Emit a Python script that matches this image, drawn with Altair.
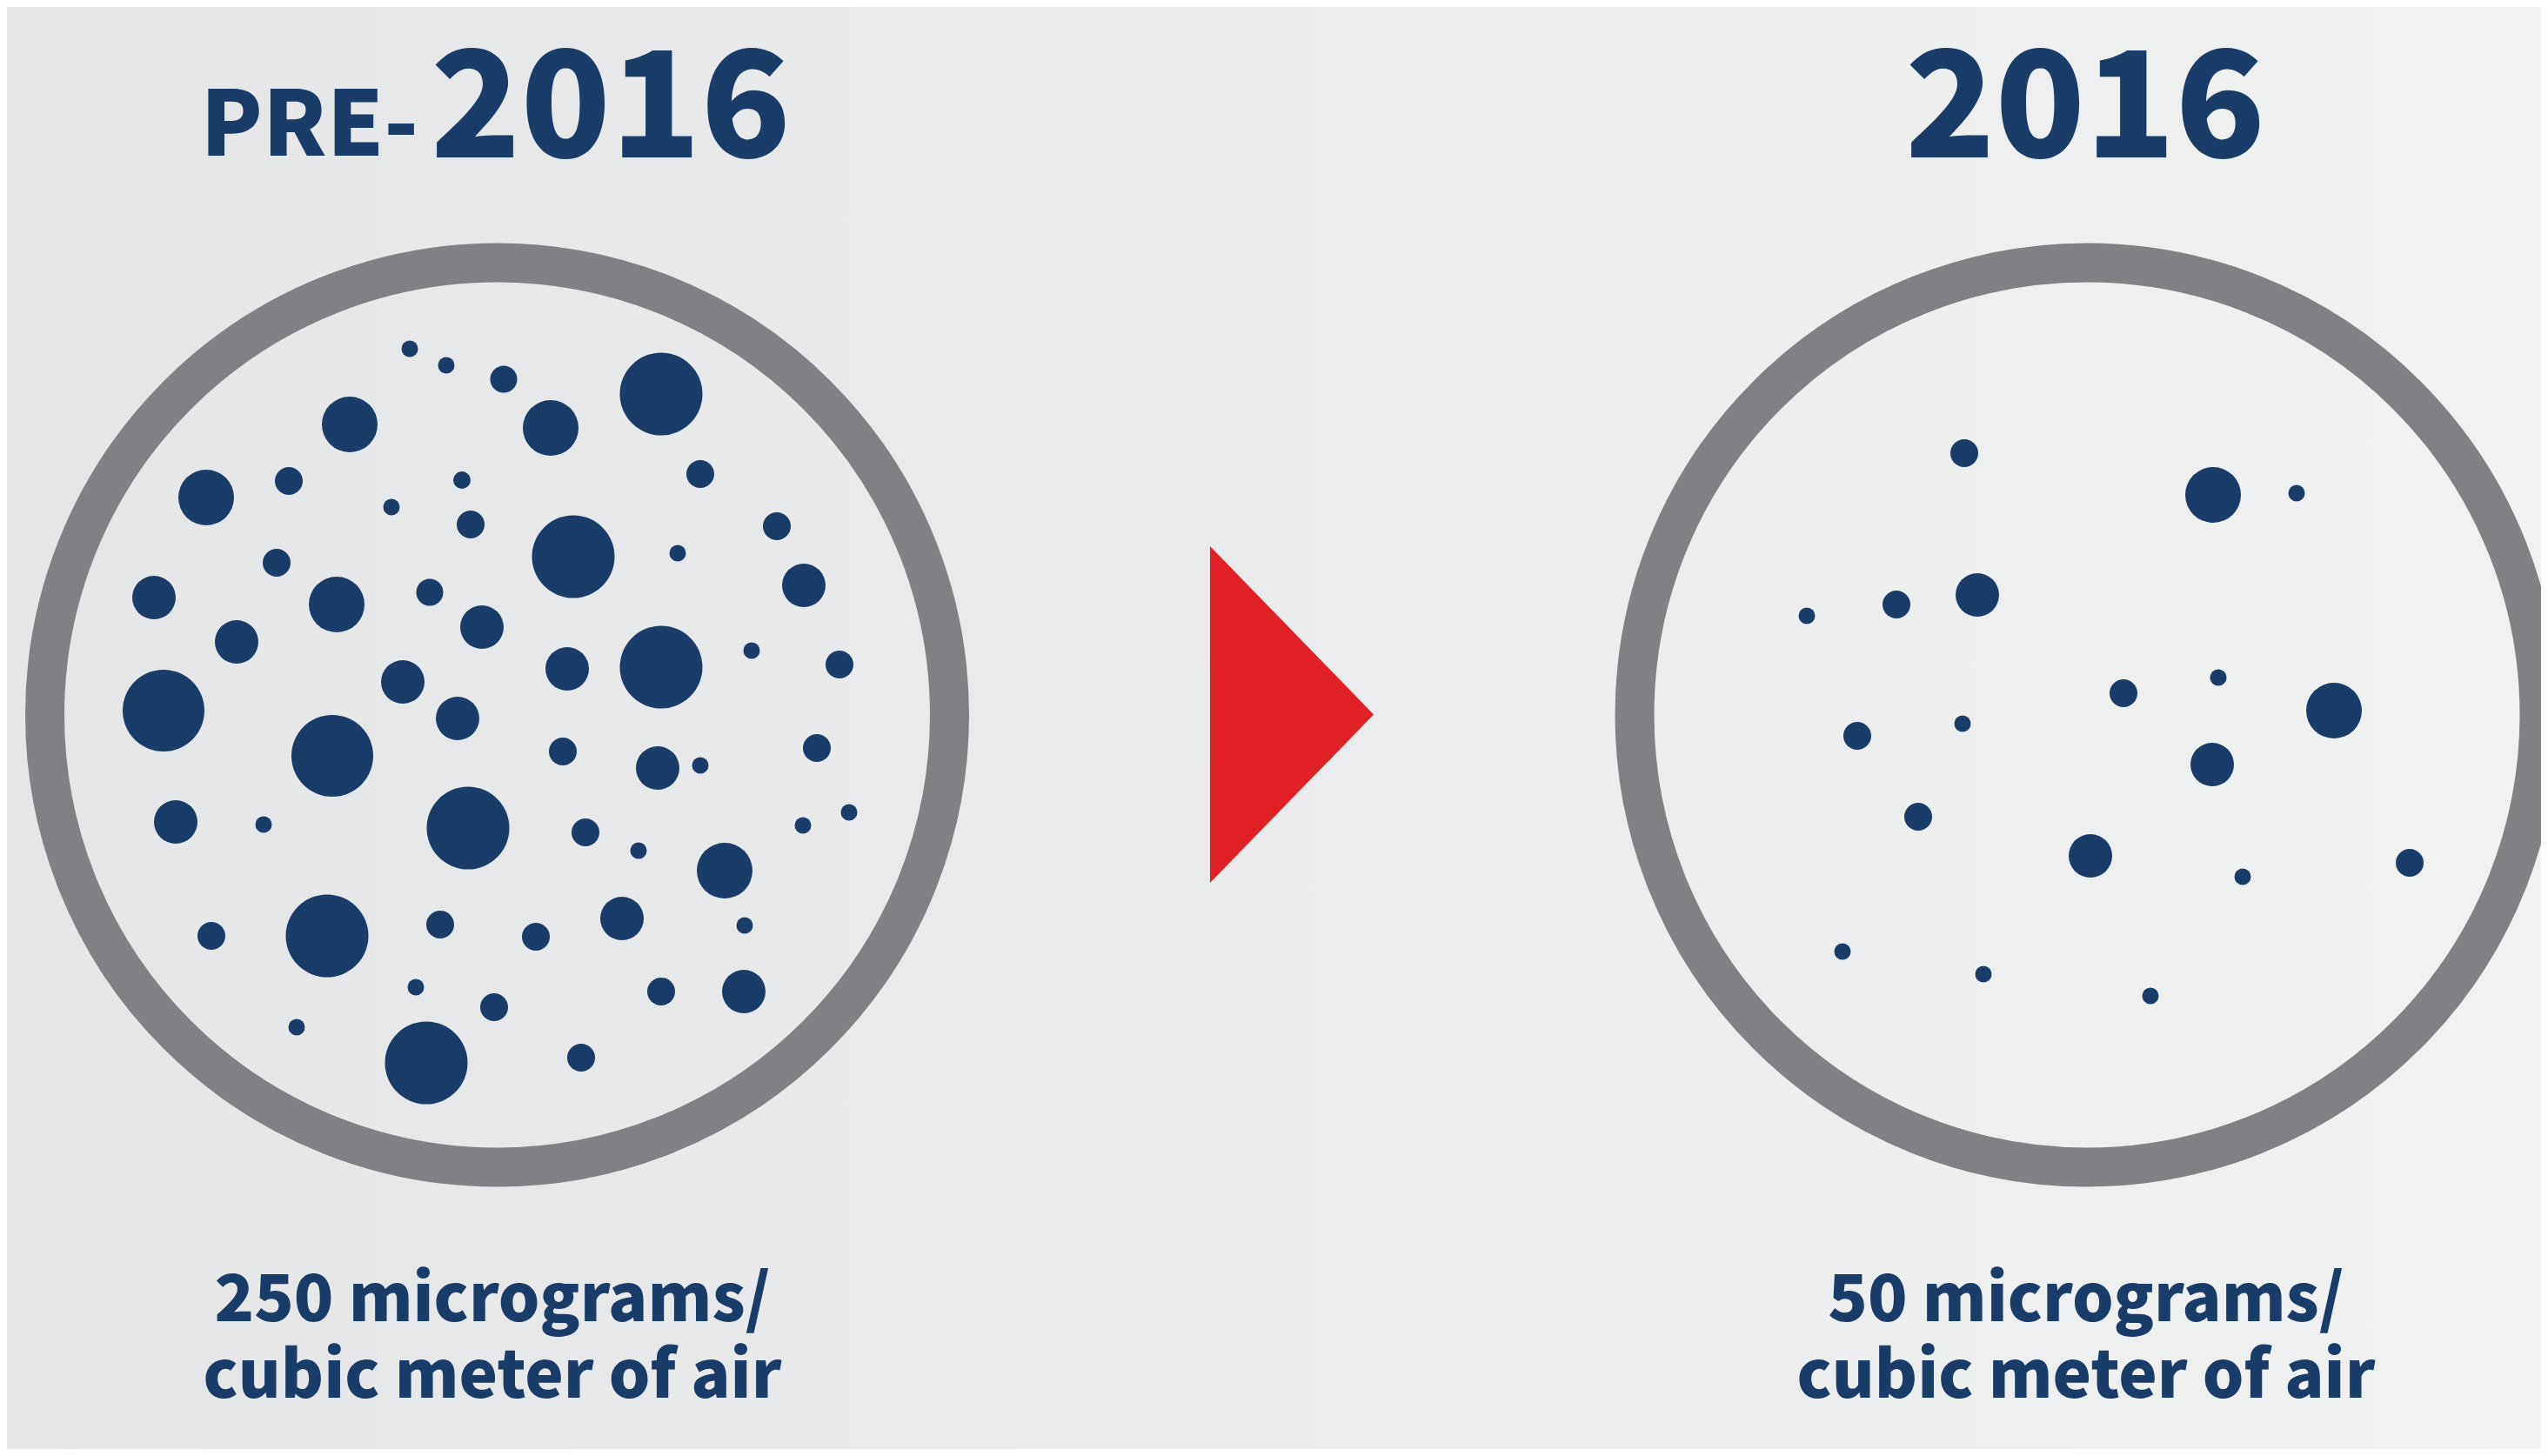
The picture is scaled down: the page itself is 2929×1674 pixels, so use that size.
import altair as alt
import pandas as pd

W, H = 2913, 1658          # whole chart, page margin is 8px
X0, Y0 = 8, 8              # reference pixel of chart origin

NAVY = "#1a3c69"
GRAY = "#808184"
RED = "#e11f27"
FONT = "Noto Sans CJK SC"

# ---- particles, pre-2016 (reference pixel coords, diameter) ----
pre_x = [471, 513, 579, 402, 237, 332, 531, 450, 541, 318, 177, 387, 494, 272, 554,
         188, 463, 526, 382, 633, 760, 805, 659, 779, 893, 924, 652, 760, 864, 965,
         202, 303, 376, 243, 506, 478, 568, 341, 490, 647, 756, 805, 939, 538, 673,
         734, 833, 923, 976, 715, 616, 856, 760, 855, 668]
pre_y = [401, 420, 436, 488, 572, 553, 552, 583, 603, 647, 687, 695, 681, 738, 721,
         817, 784, 826, 869, 492, 453, 545, 640, 636, 605, 673, 769, 767, 748, 764,
         945, 948, 1076, 1076, 1063, 1135, 1158, 1181, 1222, 864, 883, 880, 860, 952, 957,
         978, 1001, 949, 934, 1056, 1077, 1064, 1140, 1140, 1216]
pre_d = [19, 19, 31, 64, 64, 32, 20, 19, 32, 32, 50, 64, 31, 50, 50,
         94, 50, 50, 94, 64, 95, 32, 95, 19, 32, 50, 50, 95, 19, 32,
         50, 19, 95, 32, 32, 19, 32, 19, 95, 32, 50, 19, 32, 95, 32,
         19, 64, 19, 19, 50, 32, 19, 32, 50, 32]

# ---- particles, 2016 ----
now_x = [2258, 2273, 2180, 2077, 2256, 2544, 2640, 2441, 2550, 2683,
         2135, 2205, 2403, 2118, 2280, 2543, 2578, 2770, 2472]
now_y = [521, 684, 695, 708, 832, 569, 567, 797, 779, 817,
         846, 939, 984, 1094, 1120, 879, 1008, 992, 1145]
now_d = [32, 50, 32, 19, 19, 64, 19, 32, 19, 64,
         32, 32, 50, 19, 19, 50, 19, 32, 19]

# ---- rings (filters) ----
ring_x = [571.5, 2399]
ring_y = [822, 822]
ring_d = [1040, 1040]

# ---- arrow ----
arrow_x = [1485]
arrow_y = [821.5]
arrow_d = [387]

# ---- texts ----
pre_label = ["PRE-"]
year_labels = ["2016", "2016"]
year_x = [702, 2397]
note_labels = ["250 micrograms/\ncubic meter of air", "50 micrograms/\ncubic meter of air"]
note_x = [566, 2398]
note_y = [1519, 1519]

xs = alt.Scale(domain=[X0, X0 + W], nice=False, zero=False)
ys = alt.Scale(domain=[Y0, Y0 + H], nice=False, zero=False, reverse=True)
ss = alt.Scale(type="pow", exponent=2, domain=[0, 1000], range=[0, 1000000])

def X(f="x"):
    return alt.X(f"{f}:Q", scale=xs, axis=None)

def Y(f="y"):
    return alt.Y(f"{f}:Q", scale=ys, axis=None)

def S(f="d"):
    return alt.Size(f"{f}:Q", scale=ss, legend=None)

bg = alt.Chart(pd.DataFrame({"k": [0]})).mark_rect(
    color=alt.Gradient(
        gradient="linear",
        stops=[alt.GradientStop(color="#e5e6e7", offset=0),
               alt.GradientStop(color="#eaebec", offset=0.5),
               alt.GradientStop(color="#f0f1f1", offset=1)],
        x1=0, x2=1, y1=0, y2=0,
    )
).encode(x=alt.value(0), x2=alt.value(W), y=alt.value(0), y2=alt.value(H))

rings = alt.Chart(pd.DataFrame({"x": ring_x, "y": ring_y, "d": ring_d})).mark_point(
    shape="circle", filled=False, stroke=GRAY, strokeWidth=45, opacity=1
).encode(x=X(), y=Y(), size=S())

dots_df = pd.DataFrame({
    "x": pre_x + now_x,
    "y": pre_y + now_y,
    "d": pre_d + now_d,
})
dots = alt.Chart(dots_df).mark_point(
    shape="circle", filled=True, fill=NAVY, strokeWidth=0, opacity=1
).encode(x=X(), y=Y(), size=S())

arrow = alt.Chart(pd.DataFrame({"x": arrow_x, "y": arrow_y, "d": arrow_d})).mark_point(
    shape="M -0.486 -1 L 0.486 0 L -0.486 1 Z", filled=True, fill=RED, strokeWidth=0, opacity=1
).encode(x=X(), y=Y(), size=S())

pre_txt = alt.Chart(pd.DataFrame({"t": pre_label, "x": [481], "y": [179]})).mark_text(
    font=FONT, fontWeight=900, fontSize=104, color=NAVY, align="right", baseline="alphabetic"
).encode(x=X(), y=Y(), text="t:N")

year_txt = alt.Chart(pd.DataFrame({"t": year_labels, "x": year_x, "y": [181, 181]})).mark_text(
    font=FONT, fontWeight=900, fontSize=170, color=NAVY, align="center", baseline="alphabetic"
).encode(x=X(), y=Y(), text="t:N")

note_txt = alt.Chart(pd.DataFrame({"t": note_labels, "x": note_x, "y": note_y})).mark_text(
    font=FONT, fontWeight=900, fontSize=75, color=NAVY, align="center", baseline="alphabetic",
    lineBreak="\n", lineHeight=88
).encode(x=X(), y=Y(), text="t:N")

chart = alt.layer(bg, rings, dots, arrow, pre_txt, year_txt, note_txt).properties(
    width=W, height=H,
    autosize=alt.AutoSizeParams(type="none"),
    padding=0,
    background="#eaebec",
).configure_view(stroke=None)

chart.save("out.html", embed_options={"renderer": "svg", "actions": False})
